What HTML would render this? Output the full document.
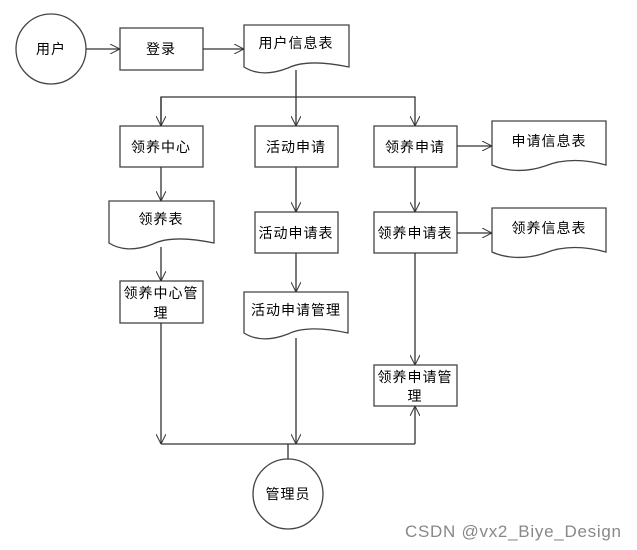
<!DOCTYPE html>
<html><head><meta charset="utf-8"><style>
html,body{margin:0;padding:0;background:#fff;}
svg{display:block;}
text{font-family:"Liberation Sans","Noto Sans CJK SC",sans-serif;font-size:14px;fill:#000;text-anchor:middle;letter-spacing:1px;}
</style></head><body>
<svg width="637" height="550" viewBox="0 0 637 550" xmlns="http://www.w3.org/2000/svg">
<defs>
<marker id="a" viewBox="0 0 10 10" refX="10" refY="5" markerWidth="10" markerHeight="10" markerUnits="userSpaceOnUse" orient="auto">
<path d="M0,0 L10,5 L0,10" fill="none" stroke="#333" stroke-width="1"/>
</marker>
</defs>
<g fill="#fff" stroke="#444" stroke-width="1.3">
<circle cx="51" cy="49" r="35"/>
<rect x="120" y="28" width="83" height="42"/>
<path d="M244,25 H349 V67 C320,61 300,62 288,68 C270,75 255,74 244,67 Z"/>
<rect x="120" y="126" width="83" height="41"/>
<rect x="255" y="126" width="83" height="41"/>
<rect x="374" y="126" width="83" height="41"/>
<path d="M492,121 H606 V165 C580,158 560,160 545,166 C525,173 505,171 492,165 Z"/>
<path d="M109,201 H214 V243 C185,237 165,238 153,244 C135,251 120,250 109,243 Z"/>
<rect x="255" y="212" width="83" height="41"/>
<rect x="374" y="212" width="83" height="41"/>
<path d="M492,208 H606 V252 C580,245 560,247 545,253 C525,260 505,258 492,252 Z"/>
<rect x="120" y="281" width="83" height="42"/>
<path d="M244,292 H348 V333 C320,327 300,328 288,334 C270,341 255,340 244,333 Z"/>
<rect x="374" y="365" width="83" height="41"/>
<circle cx="288" cy="494" r="35"/>
</g>
<g fill="none" stroke="#333" stroke-width="1.3">
<line x1="86" y1="49" x2="120" y2="49" marker-end="url(#a)"/>
<line x1="203" y1="49" x2="244" y2="49" marker-end="url(#a)"/>
<line x1="296" y1="70" x2="296" y2="126" marker-end="url(#a)"/>
<polyline points="161,126 161,97 415,97 415,126" marker-end="url(#a)"/>
<line x1="161" y1="97" x2="161" y2="126" marker-end="url(#a)"/>
<line x1="457" y1="146" x2="492" y2="146" marker-end="url(#a)"/>
<line x1="161" y1="167" x2="161" y2="201" marker-end="url(#a)"/>
<line x1="296" y1="167" x2="296" y2="212" marker-end="url(#a)"/>
<line x1="415" y1="167" x2="415" y2="212" marker-end="url(#a)"/>
<line x1="457" y1="233" x2="492" y2="233" marker-end="url(#a)"/>
<line x1="161" y1="247" x2="161" y2="281" marker-end="url(#a)"/>
<line x1="296" y1="253" x2="296" y2="292" marker-end="url(#a)"/>
<line x1="415" y1="253" x2="415" y2="365" marker-end="url(#a)"/>
<line x1="161" y1="323" x2="161" y2="444" marker-end="url(#a)"/>
<line x1="296" y1="338" x2="296" y2="444" marker-end="url(#a)"/>
<line x1="161" y1="444" x2="415" y2="444"/>
<line x1="415" y1="444" x2="415" y2="406" marker-end="url(#a)"/>
<line x1="288" y1="444" x2="288" y2="459"/>
</g>
<text x="51" y="54">用户</text>
<text x="161" y="54">登录</text>
<text x="296" y="48">用户信息表</text>
<text x="161" y="152">领养中心</text>
<text x="296" y="152">活动申请</text>
<text x="415" y="152">领养申请</text>
<text x="549" y="146">申请信息表</text>
<text x="161" y="224">领养表</text>
<text x="296" y="238">活动申请表</text>
<text x="415" y="238">领养申请表</text>
<text x="549" y="233">领养信息表</text>
<text x="161" y="298">领养中心管</text>
<text x="161" y="318">理</text>
<text x="296" y="315">活动申请管理</text>
<text x="415" y="382">领养申请管</text>
<text x="415" y="401">理</text>
<text x="288" y="499">管理员</text>
<text x="405" y="537" textLength="216" style="font-size:17px;fill:#888;text-anchor:start;letter-spacing:0;">CSDN @vx2_Biye_Design</text>
</svg>
</body></html>
